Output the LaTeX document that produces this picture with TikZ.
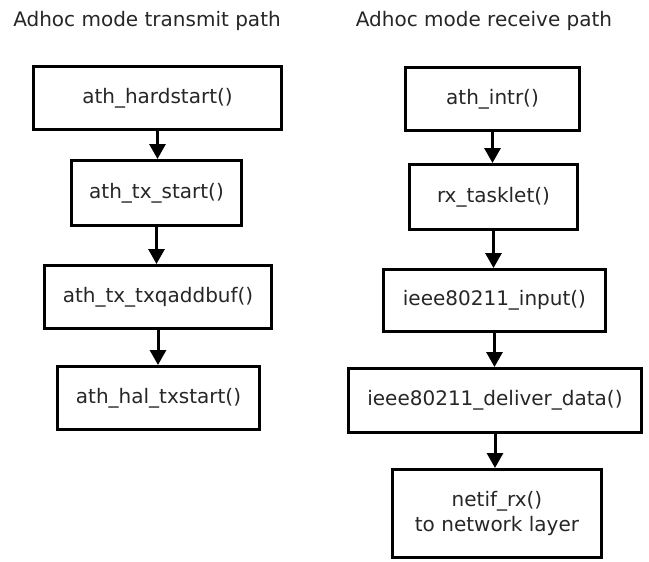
\documentclass[tikz,border=0pt]{standalone}
\usepackage{fontspec}
\setmainfont{DejaVu Sans}
\usetikzlibrary{arrows.meta}
\begin{document}
\begin{tikzpicture}[x=1pt,y=-1pt,
  fbox/.style={draw, line width=3pt, inner sep=0pt, align=center, text=black!85, font=\fontsize{20}{25}\selectfont},
  flow/.style={line width=3pt, -{Triangle[length=15pt,width=16pt]}},
  ttl/.style={inner sep=0pt, anchor=base, text=black!85, font=\fontsize{20}{24}\selectfont}]
\useasboundingbox (0,0) rectangle (649,562);
% titles
\node[ttl] (tt) at (147,27) {Adhoc mode transmit path};
\node[ttl] (rt) at (484,27) {Adhoc mode receive path};
% transmit column
\node[fbox, minimum width=248pt, minimum height=63pt] (t1) at (157.5,98) {ath\_hardstart()};
\node[fbox, minimum width=170pt, minimum height=65pt] (t2) at (156.5,193) {ath\_tx\_start()};
\node[fbox, minimum width=227pt, minimum height=63pt] (t3) at (158,297) {ath\_tx\_txqaddbuf()};
\node[fbox, minimum width=202pt, minimum height=63pt] (t4) at (158.5,398) {ath\_hal\_txstart()};
% receive column
\node[fbox, minimum width=174pt, minimum height=63pt] (r1) at (492.5,99) {ath\_intr()};
\node[fbox, minimum width=168pt, minimum height=65pt] (r2) at (493.5,197) {rx\_tasklet()};
\node[fbox, minimum width=222pt, minimum height=62pt] (r3) at (494.5,300.5) {ieee80211\_input()};
\node[fbox, minimum width=293pt, minimum height=64pt] (r4) at (495,400.5) {ieee80211\_deliver\_data()};
\node[fbox, minimum width=209pt, minimum height=88pt] (r5) at (497,513.5) {netif\_rx()\\to network layer};
% arrows
\draw[flow] (t1.south) -- (t1.south |- t2.north);
\draw[flow] (t2.south) -- (t2.south |- t3.north);
\draw[flow] (t3.south) -- (t3.south |- t4.north);
\draw[flow] (r1.south) -- (r1.south |- r2.north);
\draw[flow] (r2.south) -- (r2.south |- r3.north);
\draw[flow] (r3.south) -- (r3.south |- r4.north);
\draw[flow] (r4.south) -- (r4.south |- r5.north);
\end{tikzpicture}
\end{document}
